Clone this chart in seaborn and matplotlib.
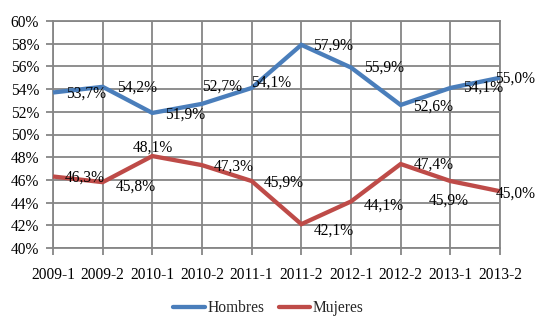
import matplotlib
matplotlib.use("Agg")
import matplotlib.pyplot as plt
import seaborn as sns
import pandas as pd
from matplotlib.ticker import PercentFormatter, MultipleLocator
from matplotlib.lines import Line2D

# ---- data ----
periods = ["2009-1", "2009-2", "2010-1", "2010-2", "2011-1",
           "2011-2", "2012-1", "2012-2", "2013-1", "2013-2"]
hombres = [53.7, 54.2, 51.9, 52.7, 54.1, 57.9, 55.9, 52.6, 54.1, 55.0]
mujeres = [46.3, 45.8, 48.1, 47.3, 45.9, 42.1, 44.1, 47.4, 45.9, 45.0]
series_names = ["Hombres", "Mujeres"]

# ---- style ----
colors = {"Hombres": "#4A7EBB", "Mujeres": "#BE4B48"}
# label offsets in pixels (dx to left edge, dy downward)
offsets = {
    "Hombres": [(13, 1), (14, 1), (13, 2), (0, -17), (-1, -5),
                (12, 1), (13, 0.5), (12, 2), (13, 0), (-5, 1)],
    "Mujeres": [(12, 1.5), (13, 4), (-20, -8), (12, 1), (12, 2),
                (12, 6), (13, 4), (13, 1), (-22, 20), (-4, 2.5)],
}

sns.set_theme(style="white")
plt.rcParams["font.family"] = ["Liberation Serif", "DejaVu Serif"]
FS = 11.2
LW = 3.1
grid_c = "#868686"

df = pd.DataFrame({
    "idx": list(range(len(periods))) * 2,
    "value": [v / 100 for v in hombres] + [v / 100 for v in mujeres],
    "serie": [series_names[0]] * len(periods) + [series_names[1]] * len(periods),
})

fig = plt.figure(figsize=(5.48, 3.30), dpi=100)
ax = fig.add_axes([53 / 548, 1 - 248 / 330, (500 - 53) / 548, (248 - 21) / 330])

sns.lineplot(data=df, x="idx", y="value", hue="serie", palette=colors,
             linewidth=LW, ax=ax, legend=False, zorder=3)
for ln in ax.lines:
    ln.set_solid_capstyle("butt")
    ln.set_solid_joinstyle("miter")
    ln.set_clip_on(False)

ax.set_xlim(0, len(periods) - 1)
ax.set_ylim(0.40, 0.60)
ax.yaxis.set_major_locator(MultipleLocator(0.02))
ax.yaxis.set_major_formatter(PercentFormatter(1.0, decimals=0))
ax.set_xticks(range(len(periods)))
ax.set_xticklabels(periods)
ax.set_xlabel("")
ax.set_ylabel("")

ax.grid(True, color=grid_c, linewidth=1.3)
ax.set_axisbelow(True)
for s in ax.spines.values():
    s.set_color(grid_c)
    s.set_linewidth(1.3)
ax.tick_params(axis="both", which="major", length=5, width=1.3, color=grid_c,
               labelsize=FS, labelcolor="black", direction="out",
               left=True, bottom=True)
ax.tick_params(axis="x", pad=9)
ax.tick_params(axis="y", pad=5)

# data labels
for name, vals in zip(series_names, [hombres, mujeres]):
    for i, v in enumerate(vals):
        dx, dy = offsets[name][i]
        ax.annotate(f"{v:.1f}%".replace(".", ","), xy=(i, v / 100),
                    xytext=(dx, -dy), textcoords="offset pixels",
                    ha="left", va="center", fontsize=FS, color="black",
                    annotation_clip=False, zorder=5)

# legend
handles = [Line2D([0], [0], color=colors[n], linewidth=LW, solid_capstyle="round")
           for n in series_names]
fig.legend(handles, series_names, loc="center", bbox_to_anchor=(0.49, 1 - 308 / 330),
           ncol=2, frameon=False, fontsize=FS, handlelength=2.0,
           handletextpad=0.2, columnspacing=0.9)

fig.savefig("out.png", dpi=100)
